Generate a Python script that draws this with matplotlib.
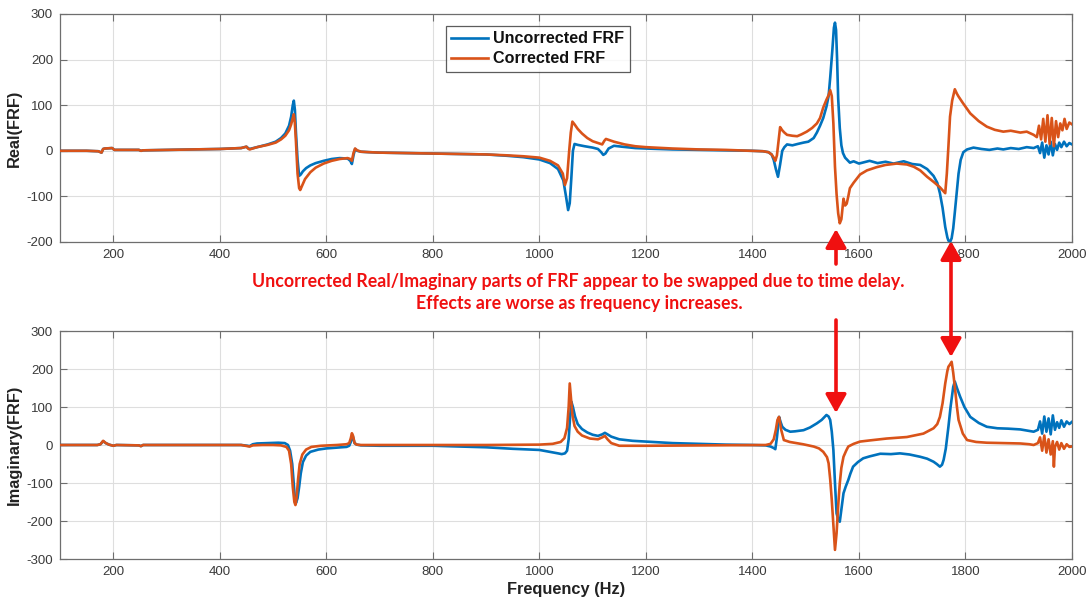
import matplotlib
matplotlib.use("Agg")
import matplotlib.pyplot as plt
import numpy as np

# ---------------- data ----------------
re_unc_f = [100,150,172,178,181,184,198,202,205,248,252,256,300,350,400,440,450,453,456,470,490,505,515,523,530,534,537,539,541,543,546,549,552,556,562,570,580,595,610,625,640,645,648,651,654,658,665,680,700,750,800,850,900,940,970,1000,1020,1035,1045,1050,1054,1057,1060,1063,1066,1072,1085,1100,1110,1116,1120,1124,1130,1140,1155,1180,1200,1250,1300,1350,1400,1420,1430,1436,1440,1444,1448,1452,1456,1460,1465,1475,1485,1496,1505,1515,1521,1527,1533,1539,1543,1546,1550,1553,1555,1557,1559,1561,1564,1567,1570,1574,1578,1583,1590,1600,1610,1620,1635,1650,1665,1684,1700,1715,1728,1740,1747,1752,1757,1762,1766,1768,1771,1774,1777,1780,1784,1787,1791,1796,1803,1815,1830,1845,1860,1871,1885,1900,1915,1928,1936,1940,1944,1948,1952,1956,1960,1964,1968,1972,1976,1980,1985,1990,1995,2000]
re_unc_v = [0,0,-1,-4,4,5,6,2,2,2,0,1,2,3,4,6,9,6,4,8,14,20,28,38,55,75,100,110,90,40,-20,-55,-52,-45,-38,-32,-27,-22,-18,-16,-17,-22,-29,-10,4,0,-2,-3,-4,-5,-6,-7,-8,-11,-14,-19,-27,-40,-65,-100,-130,-115,-60,0,15,13,10,7,4,-3,-9,-6,5,11,9,6,5,3,2,1,0,-1,-3,-8,-20,-40,-57,-30,0,8,14,12,15,18,20,28,40,55,72,97,120,160,220,270,281,265,200,115,50,12,-5,-15,-20,-26,-23,-28,-25,-22,-27,-24,-28,-23,-29,-31,-40,-55,-70,-93,-125,-167,-190,-197,-200,-192,-170,-135,-85,-50,-20,-3,3,7,4,2,5,3,6,4,8,6,10,-5,18,-15,12,-8,20,-10,15,2,18,8,20,10,17,14]

re_cor_f = [100,150,172,178,181,184,198,202,205,248,252,256,300,350,400,440,450,453,456,470,490,505,515,523,530,534,537,539,541,543,546,549,551,554,560,570,580,595,610,625,640,645,648,651,654,658,665,680,700,750,800,850,900,940,970,1000,1020,1035,1044,1048,1052,1056,1059,1062,1066,1072,1080,1090,1100,1110,1118,1122,1125,1130,1140,1160,1180,1200,1250,1300,1350,1400,1420,1430,1436,1440,1443,1446,1449,1452,1456,1460,1465,1475,1484,1492,1502,1512,1521,1527,1533,1539,1543,1546,1549,1552,1555,1558,1561,1564,1567,1571,1574,1577,1580,1583,1590,1602,1615,1633,1650,1671,1690,1703,1715,1728,1740,1752,1758,1762,1765,1768,1771,1775,1778,1780,1784,1787,1795,1809,1825,1840,1855,1871,1885,1903,1915,1928,1934,1938,1942,1946,1950,1954,1958,1962,1966,1970,1974,1978,1982,1986,1990,1995,2000]
re_cor_v = [0,0,-1,-4,4,5,6,2,2,2,0,1,2,3,4,6,9,5,3,8,13,18,25,33,45,58,72,80,60,20,-50,-82,-86,-78,-62,-47,-37,-28,-22,-18,-16,-18,-22,-5,5,1,-2,-3,-4,-5,-6,-7,-8,-10,-12,-15,-22,-32,-50,-75,-60,0,40,64,58,48,38,28,21,17,14,22,26,24,20,14,10,8,5,3,2,0,-1,-3,-8,-15,-22,-10,20,52,45,40,35,33,32,36,42,50,60,72,95,112,122,133,120,60,-35,-95,-137,-159,-150,-105,-120,-116,-100,-82,-70,-52,-43,-36,-31,-28,-30,-35,-43,-57,-68,-80,-88,-93,-50,10,75,110,125,135,125,119,105,82,65,53,46,42,44,40,42,35,30,55,25,70,20,78,15,72,10,65,30,60,45,70,48,62,58]

im_unc_f = [100,170,176,181,186,192,200,206,248,252,256,300,350,400,440,452,456,462,470,490,510,522,528,532,536,539,541,543,546,549,552,556,562,570,585,600,620,638,643,646,648,650,653,657,665,700,800,850,900,950,1000,1020,1035,1042,1048,1052,1055,1058,1060,1063,1067,1072,1080,1090,1100,1110,1118,1123,1128,1135,1150,1175,1200,1250,1300,1350,1400,1425,1434,1440,1443,1446,1450,1453,1456,1462,1471,1480,1496,1508,1521,1530,1539,1543,1546,1549,1552,1555,1558,1561,1564,1567,1571,1575,1580,1584,1589,1598,1608,1620,1640,1660,1677,1695,1715,1728,1740,1746,1752,1756,1759,1763,1768,1772,1777,1780,1784,1790,1798,1809,1825,1840,1860,1880,1903,1915,1928,1936,1940,1944,1948,1952,1956,1960,1964,1968,1972,1976,1980,1985,1990,1995,2000]
im_unc_v = [0,0,2,10,5,1,-2,0,-1,-3,0,0,0,0,0,-2,-3,2,4,5,6,5,0,-15,-50,-105,-140,-153,-140,-110,-75,-45,-28,-18,-12,-9,-7,-5,-2,8,20,22,5,1,-1,-2,-2,-4,-6,-10,-13,-18,-22,-24,-22,-15,15,80,114,100,75,55,42,33,27,24,28,32,28,22,15,11,9,5,3,1,0,-1,-4,-8,-11,20,74,60,48,40,35,36,39,46,57,66,79,75,66,35,-13,-100,-180,-195,-202,-170,-127,-110,-92,-75,-57,-45,-35,-30,-23,-24,-22,-25,-31,-36,-44,-50,-57,-52,-39,-10,48,100,153,167,150,127,100,74,58,48,44,43,41,38,35,40,62,30,75,35,70,28,78,40,60,45,65,48,62,55,61]

im_cor_f = [100,170,176,181,186,192,200,206,248,252,256,300,350,400,440,452,456,462,480,500,515,525,530,534,537,540,542,544,547,550,555,562,572,590,620,638,643,646,648,650,653,657,665,700,800,900,1000,1025,1040,1047,1052,1055,1057,1059,1062,1066,1072,1080,1095,1110,1118,1123,1128,1135,1150,1200,1300,1400,1425,1434,1440,1444,1447,1450,1454,1459,1470,1478,1495,1515,1525,1533,1540,1543,1546,1549,1552,1555,1558,1561,1564,1567,1571,1576,1580,1590,1602,1620,1652,1690,1721,1740,1747,1752,1757,1762,1766,1768,1771,1774,1777,1780,1784,1787,1795,1803,1820,1840,1870,1903,1920,1928,1936,1940,1944,1948,1952,1956,1960,1964,1966,1968,1972,1976,1980,1985,1990,1995,2000]
im_cor_v = [0,0,2,11,5,1,-2,0,-1,-3,0,0,0,0,0,-3,-4,-1,0,0,-1,-5,-15,-50,-110,-150,-158,-140,-90,-50,-25,-12,-5,-2,0,2,5,18,31,25,5,1,0,0,0,0,1,3,8,18,45,100,162,130,80,50,35,25,17,15,20,24,15,5,-2,-2,-1,0,0,3,15,40,66,74,40,13,8,6,2,-4,-9,-18,-32,-48,-90,-145,-210,-276,-232,-160,-101,-60,-31,-15,-4,3,9,12,17,21,30,44,55,74,110,162,195,206,212,219,190,153,100,66,30,13,8,6,5,4,2,0,5,20,-15,25,-20,15,-25,10,-57,-5,8,-12,5,-10,2,-5,-4]

x_ticks = [200, 400, 600, 800, 1000, 1200, 1400, 1600, 1800, 2000]
re_ticks = [-200, -100, 0, 100, 200, 300]
im_ticks = [-300, -200, -100, 0, 100, 200, 300]

# ---------------- styling ----------------
blue = "#0072BD"
orange = "#D95319"
red = "#F01010"
axcol = "#6e6e6e"
txtcol = "#3a3a3a"
plt.rcParams["font.family"] = ["Liberation Sans", "DejaVu Sans"]
plt.rcParams["axes.unicode_minus"] = False

fig = plt.figure(figsize=(10.88, 6.01), dpi=100)
ax1 = fig.add_axes([60/1088, 1-242/601, 1012/1088, 228/601])
ax2 = fig.add_axes([60/1088, 1-559/601, 1012/1088, 228/601])


def style(ax, yticks):
    ax.set_xlim(100, 2000)
    ax.set_ylim(yticks[0], yticks[-1])
    ax.set_xticks(x_ticks)
    ax.set_yticks(yticks)
    ax.grid(True, color="#dedede", lw=0.8)
    ax.set_axisbelow(True)
    ax.tick_params(direction="in", top=True, right=True, length=5,
                   width=0.8, color=axcol, labelsize=9.5, labelcolor=txtcol, pad=5)
    for s in ax.spines.values():
        s.set_color(axcol)
        s.set_linewidth(0.9)


ax1.plot(re_unc_f, re_unc_v, color=blue, lw=1.9, label="Uncorrected FRF", zorder=3)
ax1.plot(re_cor_f, re_cor_v, color=orange, lw=1.9, label="Corrected FRF", zorder=3)
style(ax1, re_ticks)
ax1.set_ylabel("Real(FRF)", fontsize=11.8, fontweight="bold", color="#222222", labelpad=3)
leg = ax1.legend(loc="upper left", bbox_to_anchor=(0.381, 0.948),
                 prop={"weight": "bold", "size": 11.6}, frameon=True, fancybox=False,
                 handlelength=2.3, borderpad=0.35, labelspacing=0.3, handletextpad=0.3,
                 borderaxespad=0)
leg.get_frame().set_edgecolor("#333333")
leg.get_frame().set_linewidth(0.9)
for t in leg.get_texts():
    t.set_color("#111111")

ax2.plot(im_unc_f, im_unc_v, color=blue, lw=1.9, zorder=3)
ax2.plot(im_cor_f, im_cor_v, color=orange, lw=1.9, zorder=3)
style(ax2, im_ticks)
ax2.set_ylabel("Imaginary(FRF)", fontsize=11.8, fontweight="bold", color="#222222", labelpad=3)
ax2.set_xlabel("Frequency (Hz)", fontsize=11.8, fontweight="bold", color="#222222", labelpad=3)

# ---------------- annotation ----------------
fig.text(578/1088, 1-282/601, "Uncorrected Real/Imaginary parts of FRF appear to be swapped due to time delay.",
         ha="center", va="center", color=red, fontsize=12.8, fontweight="bold",
         family=["Lato", "DejaVu Sans"])
fig.text(579/1088, 1-304/601, "Effects are worse as frequency increases.",
         ha="center", va="center", color=red, fontsize=12.8, fontweight="bold",
         family=["Lato", "DejaVu Sans"])

arrow_kw = dict(color=red, lw=2.6, mutation_scale=14, shrinkA=0, shrinkB=0)
fig.add_artist(matplotlib.patches.FancyArrowPatch((836/1088, 1-264/601), (836/1088, 1-229/601),
               transform=fig.transFigure, arrowstyle="-|>,head_width=0.45,head_length=0.8", **arrow_kw))
fig.add_artist(matplotlib.patches.FancyArrowPatch((836/1088, 1-320/601), (836/1088, 1-413/601),
               transform=fig.transFigure, arrowstyle="-|>,head_width=0.45,head_length=0.8", **arrow_kw))
fig.add_artist(matplotlib.patches.FancyArrowPatch((951/1088, 1-241/601), (951/1088, 1-357/601),
               transform=fig.transFigure, arrowstyle="<|-|>,head_width=0.45,head_length=0.8", **arrow_kw))

fig.savefig("out.png", dpi=100)
